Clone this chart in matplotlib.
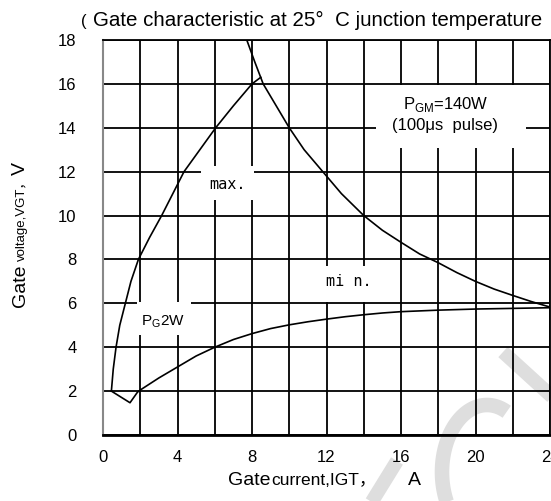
import matplotlib
matplotlib.use('Agg')
import matplotlib.pyplot as plt
import numpy as np
from matplotlib.patches import Rectangle
from matplotlib.ticker import MultipleLocator

# gate current (A) / gate voltage (V)
max_i = [0.45, 0.55, 0.7, 0.9, 1.2, 1.5, 1.9, 2.5, 3.15, 3.75, 4.35, 5.2, 6.05, 7.0, 8.0, 8.47]
max_v = [2.0, 3.0, 4.0, 5.0, 6.0, 7.0, 8.0, 9.0, 10.0, 11.0, 12.0, 13.0, 14.0, 15.0, 16.0, 16.3]

min_i = [0.45, 1.45, 1.85, 2.0, 3.0, 4.0, 5.0, 6.0, 7.0, 8.0, 9.0, 10.0, 11.0, 12.0, 13.0,
         14.0, 15.0, 16.0, 18.0, 20.0, 22.0, 24.0]
min_v = [2.0, 1.47, 1.95, 2.05, 2.6, 3.1, 3.6, 4.0, 4.35, 4.62, 4.85, 5.02, 5.16, 5.28, 5.39,
         5.48, 5.56, 5.62, 5.69, 5.74, 5.77, 5.8]

pgm_i = [7.72, 8.15, 8.6, 9.3, 10.0, 10.8, 11.8, 12.8, 14.0, 15.0, 16.0, 17.0, 18.0, 19.0,
         20.0, 21.0, 22.0, 23.0, 24.0]
pgm_v = [18.0, 17.0, 16.0, 15.0, 14.0, 13.0, 12.0, 11.0, 10.0, 9.33, 8.78, 8.25, 7.85, 7.4,
         7.0, 6.65, 6.36, 6.08, 5.83]

x_ticks = [0, 4, 8, 12, 16, 20, 24]
y_ticks = [0, 2, 4, 6, 8, 10, 12, 14, 16, 18]

plt.rcParams['font.family'] = ['Liberation Sans', 'Noto Sans CJK SC']
plt.rcParams['mathtext.fontset'] = 'custom'
plt.rcParams['mathtext.rm'] = 'Liberation Sans'

W, H = 551, 501
fig = plt.figure(figsize=(W / 100, H / 100), dpi=100)


def fx(px):
    return px / W


def fy(py):
    return 1 - py / H


# faint watermark behind the grid (pixel coords)
bg = fig.add_axes([0, 0, 1, 1], zorder=0)
bg.set_xlim(0, W)
bg.set_ylim(H, 0)
bg.axis('off')
wm = '#dedede'
t = np.radians(np.linspace(150, 296, 80))
bg.plot(487 + 45 * np.cos(t), 472 + 67 * np.sin(t), color=wm, lw=10.5, solid_capstyle='butt')
bg.plot([503, 560], [352, 404], color=wm, lw=10, solid_capstyle='butt')
bg.plot([368, 397], [508, 461], color=wm, lw=10, solid_capstyle='butt')

x0, x1, y0, y1 = 103, 550, 435, 40
ax = fig.add_axes([fx(x0), fy(y0), (x1 - x0) / W, (y0 - y1) / H], zorder=1)
ax.set_facecolor('none')
ax.set_xlim(0, 24)
ax.set_ylim(0, 18)
ax.set_xticks(x_ticks)
ax.xaxis.set_minor_locator(MultipleLocator(2))
ax.set_yticks(y_ticks)
ax.set_axisbelow(True)
ax.grid(True, which='both', color='black', lw=1.3)
ax.tick_params(which='both', length=0)
ax.tick_params(axis='y', pad=19, labelsize=12)
ax.tick_params(axis='x', pad=11, labelsize=12)
ax.spines['left'].set_color('#888888')
ax.spines['left'].set_linewidth(1.5)
ax.spines['bottom'].set_linewidth(2)
ax.spines['top'].set_linewidth(1.3)
ax.spines['right'].set_linewidth(1.3)

ax.plot(max_i, max_v, color='black', lw=1.2, zorder=3)
ax.plot(min_i, min_v, color='black', lw=1.2, zorder=3)
ax.plot(pgm_i, pgm_v, color='black', lw=1.2, zorder=3)

# white patches that break the grid behind the labels
for (bx0, bx1, by0, by1) in [(5.28, 8.11, 10.73, 12.24), (11.6, 14.37, 6.05, 7.68),
                             (1.8, 4.74, 4.55, 6.05), (14.64, 22.71, 13.06, 15.93)]:
    ax.add_patch(Rectangle((bx0, by0), bx1 - bx0, by1 - by0, fc='white', ec='none', zorder=2))

mono = 'DejaVu Sans Mono'
ax.text(6.67, 11.4, 'max.', family=mono, fontsize=11, ha='center', va='center', zorder=4)
ax.text(13.2, 7.0, 'mi n.', family=mono, fontsize=11, ha='center', va='center', zorder=4)
ax.text(3.23, 5.16, r'P$_{\rm G}$2W', fontsize=11, ha='center', va='center', zorder=4)
ax.text(18.38, 15.05, r'P$_{\rm GM}$=140W', fontsize=12, ha='center', va='center', zorder=4)
ax.text(18.35, 14.09, '(100\u03bcs  pulse)', fontsize=12, ha='center', va='center', zorder=4)

# title
fig.text(fx(81), fy(26), '(', fontsize=12, ha='left', va='baseline')
fig.text(fx(93), fy(26), 'Gate characteristic at 25\u00b0  C junction temperature',
         fontsize=14.8, ha='left', va='baseline')

# axis labels built from pieces of different size
fig.text(fx(228), fy(485), 'Gate', fontsize=14, ha='left', va='baseline')
fig.text(fx(271), fy(485), 'current,IGT\uff0c', fontsize=12.5, ha='left', va='baseline')
fig.text(fx(408), fy(485), 'A', fontsize=14, ha='left', va='baseline')

for txt, py, size in [('Gate', 307, 14), ('voltage,VGT\uff0c', 261, 9.5), ('V', 175, 14)]:
    fig.text(fx(25), fy(py), txt, fontsize=size, rotation=90, rotation_mode='anchor',
             ha='left', va='baseline')

fig.savefig('out.png', dpi=100)
